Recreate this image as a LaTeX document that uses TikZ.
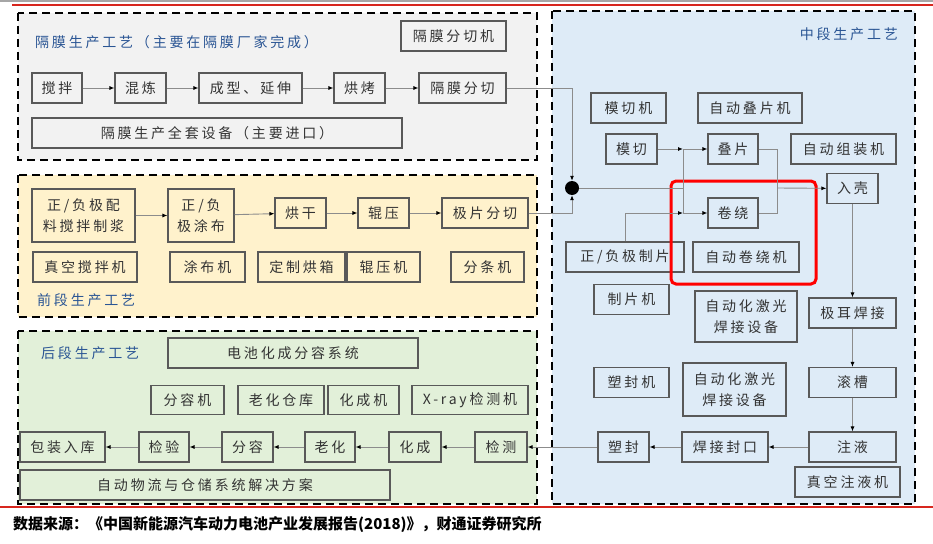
\documentclass[tikz,border=0pt]{standalone}
\usepackage{fontspec}
\usepackage{tikz}
\usetikzlibrary{arrows.meta}

\newfontfamily\cjk{Noto Sans CJK SC}
\newfontfamily\cjkwide{Noto Sans CJK SC}[LetterSpace=20]

\definecolor{gmgray}{HTML}{F2F2F2}
\definecolor{qdyellow}{HTML}{FFF2CC}
\definecolor{hdgreen}{HTML}{E2F0D9}
\definecolor{zdblue}{HTML}{DEEBF7}
\definecolor{titleblue}{HTML}{2A5594}
\definecolor{boxtext}{HTML}{333333}
\definecolor{wiregray}{HTML}{8C8C8C}
\definecolor{rulered}{HTML}{D7261E}

\begin{document}
\begin{tikzpicture}[x=1pt, y=-1pt,
  sec/.style={line width=2.2pt, dash pattern=on 8pt off 5pt},
  box/.style={draw=black!65, line width=1.1pt, inner sep=0pt, align=center,
    minimum height=30pt, text=boxtext, font=\cjkwide\fontsize{14}{21}\selectfont},
  tall/.style={box, minimum height=53pt},
  secname/.style={text=titleblue, inner sep=0pt, font=\cjkwide\fontsize{14}{17}\selectfont},
  link/.style={draw=wiregray, line width=0.9pt},
  flow/.style={link, -{Latex[length=5pt,width=4pt,color=black]}}
]

\useasboundingbox (0,0) rectangle (933,543);

\draw[black!35, line width=2pt] (0,1) -- (933,1);
\draw[rulered, line width=2pt] (12,5) -- (933,5);
\draw[rulered, line width=2pt] (0,507) -- (933,507);

% sections
\draw[sec, fill=gmgray]   (18,13)  rectangle (537,160);
\draw[sec, fill=qdyellow] (18,175) rectangle (537,317);
\draw[sec, fill=hdgreen]  (18,331) rectangle (537,504);
\draw[sec, fill=zdblue]   (552,11) rectangle (915,504);

% separator
\node[secname, anchor=west] (gmname) at (35,42) {隔膜生产工艺（主要在隔膜厂家完成）};
\node[box, minimum width=105pt] (gmqj) at (453.5,36) {隔膜分切机};
\foreach \n/\x/\w/\lab in {jb/57/50/搅拌, hl/140.5/51/混炼, cx/250.5/103/成型、延伸,
    hk/359.5/51/烘烤, gmfq/462.5/87/隔膜分切}
  \node[box, minimum width=\w pt] (\n) at (\x,88) {\lab};
\node[box, minimum width=370pt] (gmsb) at (217,133) {隔膜生产全套设备（主要进口）};

% front
\node[tall, minimum width=103pt] (pl) at (83.5,215.5) {正/负极配\\料搅拌制浆};
\node[tall, minimum width=66pt] (tb) at (201,215.5) {正/负\\极涂布};
\foreach \n/\x/\w/\lab in {hg/300.5/51/烘干, gy/383.5/51/辊压, jpfq/485/86/极片分切}
  \node[box, minimum width=\w pt] (\n) at (\x,213) {\lab};
\foreach \n/\x/\w/\lab in {zkjb/85/104/真空搅拌机, tbj/207.5/75/涂布机, hx/301.5/87/定制烘箱,
    gyj/383.5/73/辊压机, ftj/487.5/73/分条机}
  \node[box, minimum width=\w pt] (\n) at (\x,267) {\lab};
\node[secname, anchor=west] (qdname) at (37,300) {前段生产工艺};

% back
\node[secname, anchor=west] (hdname) at (41,353) {后段生产工艺};
\node[box, minimum width=250pt] (hcfr) at (293,353) {电池化成分容系统};
\foreach \n/\x/\w/\lab in {frj/187.5/73/分容机, lhck/281/86/老化仓库, hcj/363.5/71/化成机,
    xray/470/116/X-ray检测机}
  \node[box, minimum width=\w pt, minimum height=29pt] (\n) at (\x,400) {\lab};
\foreach \n/\x/\w/\lab in {bzrk/62.5/85/包装入库, jy/164/50/检验, fr/247.5/51/分容,
    lh/330/50/老化, hc/415/52/化成, jc/501/52/检测}
  \node[box, minimum width=\w pt] (\n) at (\x,447) {\lab};
\node[box, minimum width=370pt] (wlcc) at (205,485) {自动物流与仓储系统解决方案};

% middle
\node[secname, anchor=east] (zdname) at (898,34) {中段生产工艺};
\foreach \n/\x/\y/\w/\lab in {mqj/628.5/108/75/模切机, dpj/750/108/104/自动叠片机,
    mq/631.5/149/51/模切, dp/733/149/50/叠片, zzj/843.5/149/105/自动组装机,
    rk/852.5/188.5/51/入壳, jr/733/213/50/卷绕, jrj/746/257/106/自动卷绕机,
    zpj/631.5/299.5/75/制片机, jehj/852.5/313/87/极耳焊接,
    sfj/631.5/382.5/75/塑封机, gc/852.5/382.5/87/滚槽,
    sf/623.5/447/51/塑封, hjfk/725/447/86/焊接封口, zy/852.5/447/87/注液,
    zyj/847.5/482/105/真空注液机}
  \node[box, minimum width=\w pt] (\n) at (\x,\y) {\lab};
\node[box, minimum width=118pt] (zp) at (625,257) {正/负极制片};
\node[tall, minimum width=102pt, minimum height=51pt] (jg1) at (746,316.5) {自动化激光\\焊接设备};
\node[tall, minimum width=103pt] (jg2) at (734.5,389.5) {自动化激光\\焊接设备};

\node[circle, fill=black, minimum size=14pt, inner sep=0pt] (dot) at (572,188) {};
\coordinate (jtop) at (683,149);
\coordinate (jmid) at (683,188);
\coordinate (jbot) at (683,213);
\coordinate (otop) at (777,149);
\coordinate (omid) at (777,188);
\coordinate (obot) at (777,213);

\draw[red, line width=3pt, rounded corners=5pt] (671,181) rectangle (816,284);

% connectors
\foreach \a/\b in {jb/hl, hl/cx, cx/hk, hk/gmfq, pl/tb, tb/hg, hg/gy, gy/jpfq}
  \draw[flow] (\a) -- (\b);
\draw[flow] (gmfq) -| (dot);
\draw[flow] (jpfq) -| (dot);
\draw[link] (dot) -- (jmid);
\draw[link] (jtop) -- (jbot);
\draw[flow] (mq) -- (jtop);
\draw[flow] (jtop) -- (dp);
\draw[flow] (zp) |- (jbot);
\draw[flow] (jbot) -- (jr);
\draw[link] (dp) -| (obot) -- (jr);
\draw[flow] (omid) -- (rk);
\foreach \a/\b in {rk/jehj, jehj/gc, gc/zy, zy/hjfk, hjfk/sf, sf/jc, jc/hc, hc/lh,
    lh/fr, fr/jy, jy/bzrk}
  \draw[flow] (\a) -- (\b);

\node[anchor=west, inner sep=0pt, font=\cjk\bfseries\fontsize{15}{18}\selectfont] (src)
  at (13,525) {数据来源：《中国新能源汽车动力电池产业发展报告(2018)》，财通证券研究所};

\end{tikzpicture}
\end{document}
